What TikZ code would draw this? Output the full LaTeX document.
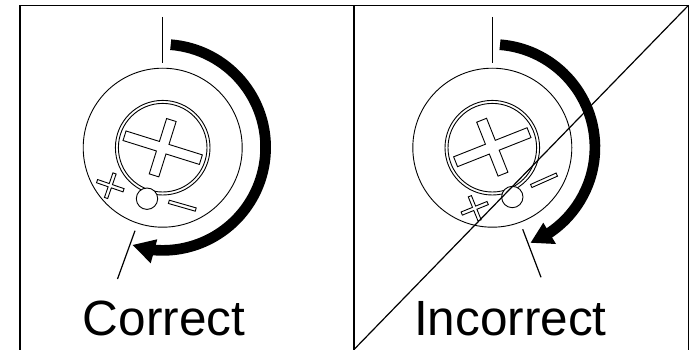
\documentclass[tikz,border=0pt]{standalone}
\usepackage{fontspec}
\setmainfont{Liberation Sans}
\tikzset{
  thin line/.style={draw=black,line width=0.9pt},
  frame line/.style={draw=black,line width=1.6pt},
  tick line/.style={draw=black,line width=1.2pt},
  sweep/.style={draw=black,line width=10.7pt},
  caption/.style={font=\fontsize{49.5}{49.5}\selectfont,anchor=base,inner sep=0pt}
}
\newcommand{\crossat}[6]{% x y angle halflong halfshort halfwidth
  \begin{scope}[shift={(#1,#2)},rotate=#3]
    \draw[thin line,line join=miter] (-#4,-#6) -- (-#6,-#6) -- (-#6,-#5) -- (#6,-#5) -- (#6,-#6) -- (#4,-#6)
      -- (#4,#6) -- (#6,#6) -- (#6,#5) -- (-#6,#5) -- (-#6,#6) -- (-#4,#6) -- cycle;
  \end{scope}}
\newcommand{\minusat}[5]{% x y angle halflong halfwidth
  \begin{scope}[shift={(#1,#2)},rotate=#3]
    \draw[thin line] (-#4,-#5) rectangle (#4,#5);
  \end{scope}}
\begin{document}
\begin{tikzpicture}[x=1pt,y=-1pt]
\useasboundingbox (0,0) rectangle (700,350);
\fill[white] (0,0) rectangle (700,350);
% frame
\draw[frame line] (20,350) -- (20,5.5) -- (688.3,5.5) -- (688.3,350);
\draw[frame line] (354,5.5) -- (354,350);
% left
\coordinate (lc) at (162.7,147.7);
\draw[tick line] (162.7,17) -- (162.7,63);
\draw[thin line] (lc) circle[radius=79.5];
\draw[thin line] (lc) circle[radius=47.3];
\draw[thin line] (lc) circle[radius=44.3];
\crossat{162.7}{147.7}{-17.4}{40}{29}{5}
\crossat{110.3}{185.7}{-19}{14}{13}{1.7}
\minusat{182.3}{205.7}{-16}{14}{1.7}
\draw[thin line,fill=white] (147,198.7) circle[radius=10.7];
\draw[tick line] (135,230.7) -- (117.5,279);
\draw[sweep] (170.7,44.7) arc[start angle=-85.5,end angle=95.2,radius=103];
\fill (132.7,245) -- (157.3,239.3) -- (150.7,263.3) -- cycle;
\node[caption] (correct) at (164,335) {Correct};
% right
\coordinate (rc) at (492.3,147.7);
\draw[tick line] (492.3,17) -- (492.3,63);
\draw[thin line] (rc) circle[radius=79.5];
\draw[thin line] (rc) circle[radius=47.3];
\draw[thin line] (rc) circle[radius=44.3];
\crossat{492.3}{147.2}{21.6}{39.5}{29}{5.3}
\crossat{474.7}{208.3}{22}{14}{13}{1.7}
\minusat{544}{180.3}{24}{14}{1.7}
\draw[thin line,fill=white] (512.3,197) circle[radius=10.7];
\draw[tick line] (522.7,229.3) -- (541,277.3);
\draw[sweep] (500,44.7) arc[start angle=-85.5,end angle=58,radius=103];
\fill (530.7,242.7) -- (543.3,222.7) -- (556,244) -- cycle;
\node[caption] (incorrect) at (510.4,335) {Incorrect};
\draw[tick line] (688.3,5.5) -- (354,349.5);
\end{tikzpicture}
\end{document}
